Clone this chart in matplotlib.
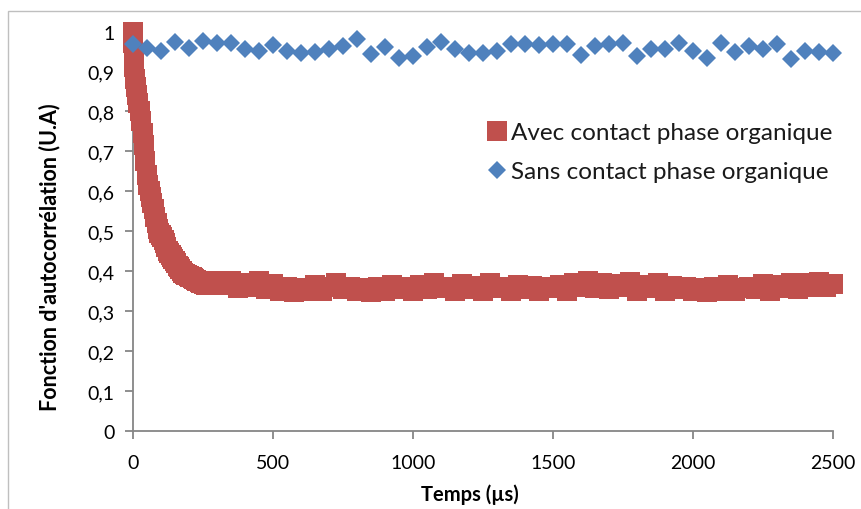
import numpy as np
import matplotlib
matplotlib.use("Agg")
import matplotlib.pyplot as plt
from matplotlib.patches import Rectangle

# ---- data ----
sans_t = list(range(0, 2501, 50))
sans_v = [0.968, 0.959, 0.951, 0.973, 0.959, 0.976, 0.970, 0.972, 0.955, 0.951,
          0.965, 0.951, 0.947, 0.948, 0.955, 0.963, 0.982, 0.943, 0.962, 0.934,
          0.938, 0.962, 0.973, 0.955, 0.947, 0.947, 0.951, 0.968, 0.968, 0.965,
          0.968, 0.968, 0.940, 0.963, 0.968, 0.972, 0.938, 0.957, 0.957, 0.972,
          0.951, 0.934, 0.972, 0.948, 0.963, 0.955, 0.968, 0.930, 0.951, 0.948,
          0.947]

avec_decay_t = [0, 2, 4, 6, 8,
                10, 15, 20, 25, 30, 35, 40, 45, 50, 55,
                60, 65, 70, 75, 80, 85, 90, 95, 100, 105,
                110, 115, 120, 125, 130, 135, 140, 145, 150, 155,
                160, 165, 170, 175, 180, 185, 190, 195, 200, 205,
                210, 215, 220, 225, 230, 235, 240, 245, 250, 255,
                260, 265, 270, 275, 280, 285, 290, 295]
avec_decay_v = [1.0, 0.97, 0.94, 0.91, 0.88,
                0.86, 0.84, 0.82, 0.80, 0.775, 0.745, 0.715, 0.675, 0.64, 0.615,
                0.60, 0.585, 0.57, 0.555, 0.535, 0.52, 0.505, 0.495, 0.49, 0.485,
                0.478, 0.47, 0.46, 0.452, 0.445, 0.44, 0.435, 0.43, 0.426, 0.42,
                0.414, 0.41, 0.405, 0.40, 0.397, 0.394, 0.392, 0.39, 0.388, 0.386,
                0.385, 0.383, 0.381, 0.379, 0.377, 0.376, 0.374, 0.372, 0.37, 0.368,
                0.366, 0.368, 0.37, 0.372, 0.374, 0.375, 0.373, 0.37]

avec_plateau_t = list(range(300, 2501, 25))
avec_plateau_v = [0.372, 0.365, 0.376, 0.358, 0.37, 0.362, 0.375, 0.355, 0.368,
                  0.35, 0.362, 0.348, 0.358, 0.352, 0.365, 0.35, 0.36, 0.37, 0.355,
                  0.362, 0.35, 0.358, 0.348, 0.36, 0.352, 0.365, 0.355, 0.362, 0.35,
                  0.366, 0.355, 0.372, 0.358, 0.362, 0.35, 0.368, 0.356, 0.364, 0.352,
                  0.37, 0.358, 0.362, 0.35, 0.366, 0.356, 0.364, 0.352, 0.362, 0.358,
                  0.365, 0.352, 0.372, 0.36, 0.376, 0.358, 0.37, 0.355, 0.368, 0.36,
                  0.374, 0.352, 0.366, 0.358, 0.37, 0.35, 0.364, 0.356, 0.362, 0.35,
                  0.358, 0.348, 0.362, 0.352, 0.366, 0.35, 0.358, 0.362, 0.355, 0.368,
                  0.352, 0.365, 0.358, 0.372, 0.355, 0.37, 0.36, 0.374, 0.362, 0.368]

avec_t = avec_decay_t + avec_plateau_t
avec_v = avec_decay_v + avec_plateau_v

x_ticks = [0, 500, 1000, 1500, 2000, 2500]
y_ticks = [0, 0.1, 0.2, 0.3, 0.4, 0.5, 0.6, 0.7, 0.8, 0.9, 1.0]
y_tick_labels = ["0", "0,1", "0,2", "0,3", "0,4", "0,5", "0,6", "0,7", "0,8", "0,9", "1"]

label_avec = "Avec contact phase organique"
label_sans = "Sans contact phase organique"
xlabel = "Temps (µs)"
ylabel = "Fonction d'autocorrélation (U.A)"

# ---- style ----
plt.rcParams['font.family'] = ['Lato', 'DejaVu Sans']
RED = "#C0504D"
BLUE = "#4F81BD"
AXC = "#868686"
TXT = "#000000"

W, H = 861, 510
fig = plt.figure(figsize=(W / 100, H / 100), dpi=100)
fig.patch.set_facecolor("white")

# outer chart border
fig.patches.append(Rectangle((8 / W, -0.1), 1.2, 1 - 12 / H + 0.1,
                             transform=fig.transFigure, fill=False,
                             edgecolor="#BFBFBF", linewidth=1.0))

ax = fig.add_axes([132.7 / W, 1 - 432.3 / H, (833 - 132.7) / W, (432.3 - 32.5) / H])
ax.set_facecolor("none")

ax.plot(avec_t, avec_v, linestyle="none", marker="s", markersize=14,
        markerfacecolor=RED, markeredgecolor=RED, markeredgewidth=0,
        label=label_avec, clip_on=False, zorder=3)
ax.plot(sans_t, sans_v, linestyle="none", marker="D", markersize=9.6,
        markerfacecolor=BLUE, markeredgecolor=BLUE, markeredgewidth=0,
        label=label_sans, clip_on=False, zorder=4)

ax.set_xlim(0, 2500)
ax.set_ylim(0, 1)
ax.set_xticks(x_ticks)
ax.set_xticklabels([str(v) for v in x_ticks])
ax.set_yticks(y_ticks)
ax.set_yticklabels(y_tick_labels)

for s in ["top", "right"]:
    ax.spines[s].set_visible(False)
for s in ["left", "bottom"]:
    ax.spines[s].set_color(AXC)
    ax.spines[s].set_linewidth(1.3)

ax.tick_params(axis="both", direction="out", length=6, width=1.3, color=AXC,
               labelsize=14, labelcolor=TXT)
ax.tick_params(axis="x", pad=10)
ax.tick_params(axis="y", pad=7)

fig.text(470 / W, 1 - 495 / H, xlabel, ha="center", va="center",
         fontsize=14.5, fontweight="bold", color=TXT)
fig.text(50 / W, 1 - 257 / H, ylabel, ha="center", va="center", rotation=90,
         fontsize=15.5, fontweight="bold", color=TXT)

ax_w = 833 - 132.7
ax_h = 432.3 - 32.5
leg = ax.legend(loc="upper left",
                bbox_to_anchor=((487 - 132.7) / ax_w, (432.3 - 123) / ax_h),
                frameon=False, fontsize=17.5, handlelength=0.8, handletextpad=0.2,
                labelspacing=0.75, borderaxespad=0, borderpad=0, markerscale=1.0)
for t in leg.get_texts():
    t.set_color("#1a1a1a")

fig.savefig("out.png", dpi=100, facecolor="white")
